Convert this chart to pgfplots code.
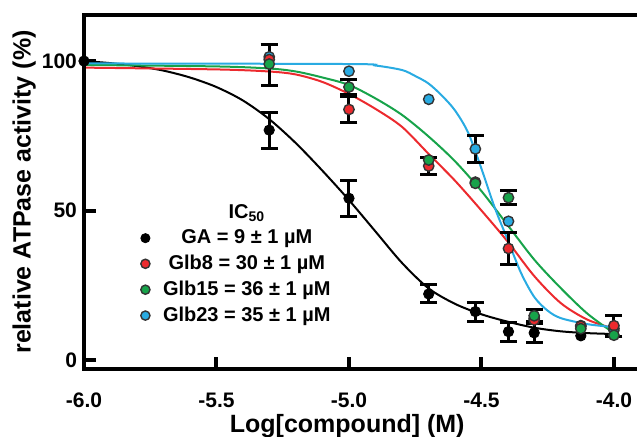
\documentclass[border=0pt]{standalone}
\usepackage{pgfplots}
\pgfplotsset{compat=1.18}
\usepackage{fontspec}
\setmainfont{Liberation Sans}

\definecolor{cred}{HTML}{EC2A2E}
\definecolor{cgreen}{HTML}{17A34A}
\definecolor{cblue}{HTML}{29ABE2}

% marker data: x, y
\pgfplotstableread{
x y
-6.0 100
-5.301 76.9
-5.0 54.1
-4.699 22.1
-4.523 16.2
-4.398 9.5
-4.301 9.1
-4.125 8.1
-4.0 9.8
}\gadata
\pgfplotstableread{
x y
-5.301 100.5
-5.0 83.8
-4.699 64.9
-4.523 59.5
-4.398 37.3
-4.301 13.4
-4.125 11.3
-4.0 11.5
}\glbeight
\pgfplotstableread{
x y
-5.301 99.0
-5.0 91.3
-4.699 66.9
-4.523 59.1
-4.398 54.3
-4.301 14.8
-4.125 10.5
-4.0 8.3
}\glbfifteen
\pgfplotstableread{
x y
-5.301 101.4
-5.0 96.6
-4.699 87.2
-4.523 70.6
-4.398 46.4
-4.301 14.0
-4.125 11.5
-4.0 10.5
}\glbtwentythree
% error bars that are visible
\pgfplotstableread{
x y e
-5.301 76.9 6
-5.0 54.1 6
-4.699 22.1 3
-4.523 16.2 3.2
-4.398 9.5 3.2
-4.301 9.1 3.2
-5.0 83.8 4.5
-4.699 64.9 3
-4.398 37.3 5.4
-4.0 11.5 3.5
-5.301 98.7 7
-5.0 91.3 2.6
-4.398 54.3 2.4
-4.301 14.8 2
-4.523 70.6 4.5
}\errs

\begin{document}
\begin{tikzpicture}
\begin{axis}[
    scale only axis,
    width=276.5pt, height=177pt,
    xmin=-6, xmax=-3.913,
    ymin=-3, ymax=115.4,
    clip=false,
    axis line style={draw=none},
    tick align=inside,
    xtick pos=bottom, ytick pos=left,
    xtick={-6,-5.5,-5,-4.5,-4},
    xticklabels={-6.0,-5.5,-5.0,-4.5,-4.0},
    ytick={0,50,100},
    yticklabels={0,50,100},
    major tick length=6pt,
    every tick/.style={black, line width=2pt},
    tick label style={font=\bfseries\fontsize{10.5}{12}\selectfont},
    xticklabel style={yshift=-8.5pt},
    label style={font=\bfseries\fontsize{12.5}{14}\selectfont},
    xlabel={Log[compound] (M)},
    ylabel={relative ATPase activity (\%)},
    xlabel style={at={(axis description cs:0.476,-0.16)}, anchor=center},
    ylabel style={at={(axis description cs:-0.108,0.5)}, anchor=center},
    legend cell align=center,
    legend image code/.code={\draw[#1] plot coordinates {(0pt,0pt)};},
    legend style={draw=none, fill=none, at={(0.102,0.472)}, anchor=north west,
        font=\bfseries\fontsize{10}{12}\selectfont,
        column sep=5.5pt, row sep=2.2pt, inner sep=0pt, nodes={inner sep=1pt}},
]

\addlegendimage{empty legend}
\addlegendentry{IC\textsubscript{50}}
\addlegendimage{only marks, mark=*, mark size=2.3pt, mark options={fill=black, draw=black}}
\addlegendentry{GA = 9 ± 1 µM}
\addlegendimage{only marks, mark=*, mark size=2.3pt, mark options={fill=cred, draw=black!80, line width=0.7pt}}
\addlegendentry{Glb8 = 30 ± 1 µM}
\addlegendimage{only marks, mark=*, mark size=2.3pt, mark options={fill=cgreen, draw=black!80, line width=0.7pt}}
\addlegendentry{Glb15 = 36 ± 1 µM}
\addlegendimage{only marks, mark=*, mark size=2.3pt, mark options={fill=cblue, draw=black!80, line width=0.7pt}}
\addlegendentry{Glb23 = 35 ± 1 µM}

% fitted curves
\addplot[black, line width=1pt, smooth, no marks, forget plot] coordinates {
(-6.0,100) (-5.9,99.3) (-5.8,98.3) (-5.7,96.8) (-5.6,94.5) (-5.5,91.3)
(-5.4,86.8) (-5.3,80.5) (-5.2,72.5) (-5.1,63.3) (-5.0,53.5) (-4.9,43)
(-4.8,32.5) (-4.7,24) (-4.6,18.8) (-4.5,15.3) (-4.4,12.8) (-4.3,10.8)
(-4.2,9.6) (-4.1,9.0) (-4.0,8.7)};
\addplot[cred, line width=1pt, smooth, no marks, forget plot] coordinates {
(-6.0,97.8) (-5.5,97.2) (-5.3,96.5) (-5.2,95.5) (-5.1,93) (-5.0,89)
(-4.9,84) (-4.8,78) (-4.7,69) (-4.6,60) (-4.5,50) (-4.4,39.5)
(-4.3,28) (-4.2,19) (-4.1,13.5) (-4.0,10.5)};
\addplot[cgreen, line width=1pt, smooth, no marks, forget plot] coordinates {
(-6.0,98.7) (-5.5,98.2) (-5.3,97.5) (-5.2,96.5) (-5.1,94.5) (-5.0,92)
(-4.9,87.5) (-4.8,82) (-4.7,74.8) (-4.6,66.5) (-4.5,56.5) (-4.4,45)
(-4.3,33.5) (-4.2,24) (-4.1,15.5) (-4.0,9)};
\addplot[cblue, line width=1pt, smooth, no marks, forget plot] coordinates {
(-6.0,99.2) (-5.0,99) (-4.9,98.5) (-4.8,97) (-4.75,95) (-4.7,92.5)
(-4.65,88.5) (-4.6,83.5) (-4.55,76) (-4.5,64) (-4.45,51) (-4.4,40)
(-4.35,29) (-4.3,21) (-4.25,16.5) (-4.2,14) (-4.1,12) (-4.0,11)};

% error bars
\addplot[draw=none, mark=none, forget plot,
    error bars/.cd, y dir=both, y explicit,
    error bar style={draw=black, line width=1.5pt},
    error mark options={draw=black, line width=1.5pt, mark size=4.25pt, rotate=90}]
    table[x=x, y=y, y error=e] {\errs};

% data points
\addplot[only marks, mark=*, mark size=2.6pt, mark options={fill=black, draw=black}, forget plot] table {\gadata};
\addplot[only marks, mark=*, mark size=2.6pt, mark options={fill=cblue, draw=black!80, line width=0.7pt}, forget plot] table {\glbtwentythree};
\addplot[only marks, mark=*, mark size=2.6pt, mark options={fill=cred, draw=black!80, line width=0.7pt}, forget plot] table {\glbeight};
\addplot[only marks, mark=*, mark size=2.6pt, mark options={fill=cgreen, draw=black!80, line width=0.7pt}, forget plot] table {\glbfifteen};

% frame: left, bottom and top (right side is cut off)
\draw[black, line width=2pt, line join=miter]
    (rel axis cs:1,1) -- (rel axis cs:0,1) -- (rel axis cs:0,0) -- (rel axis cs:1,0);
\end{axis}
\pgfresetboundingbox
\path[use as bounding box] (-42pt,-33.5pt) rectangle (276.5pt,184.5pt);
\end{tikzpicture}
\end{document}
